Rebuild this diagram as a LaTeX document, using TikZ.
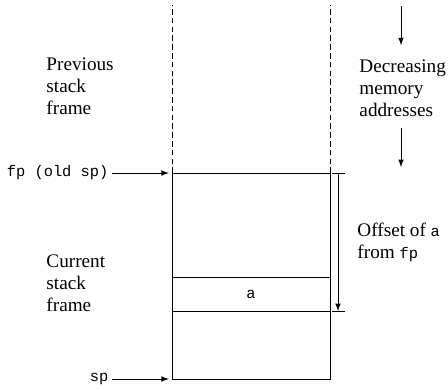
\documentclass[tikz,border=0pt]{standalone}
\usepackage{fontspec}
\setmainfont{Liberation Serif}
\setmonofont[Scale=0.8]{Liberation Mono}
\usetikzlibrary{positioning}

\begin{document}
\begin{tikzpicture}[
        x=0.625pt, y=-0.625pt,
        -latex ,
        semithick ,
        font=\fontsize{12}{13.75}\selectfont ,
        cell/.style ={ draw, -, inner sep=0, outer sep=0, minimum width=98.75pt},
        label/.style ={ inner sep=0, align=left},
        pointer/.style ={ inner sep=2pt, anchor=east, font=\fontsize{12}{13.75}\ttfamily},
    ]
    \useasboundingbox (0,0) rectangle (448,389);

    % the frame of the running procedure
    \node[cell, minimum height=65pt, anchor=north west] (upper) at (172,173) {};
    \node[cell, minimum height=21.25pt, below=0 of upper] (slota) {\texttt{a}};
    \node[cell, minimum height=42.5pt, below=0 of slota] (lower) {};

    % previous frame, open at the top
    \coordinate (prevleft) at (172,5);
    \coordinate (prevright) at (330,5);
    \draw[-, dash pattern=on 3.5pt off 2pt] (upper.north west) -- (prevleft);
    \draw[-, dash pattern=on 3.5pt off 2pt] (upper.north east) -- (prevright);

    \node[label, anchor=west] (prev) at (46,86) {Previous\\stack\\frame};
    \node[label, anchor=west] (curr) at (46,283) {Current\\stack\\frame};

    % fp and sp
    \node[pointer] (fp) at (112,173) {fp (old sp)};
    \node[pointer] (sp) at (112,379) {sp};
    \path (fp.east) edge[shorten >=2pt] (upper.north west);
    \path (sp.east) edge[shorten >=2pt] (lower.south west);

    % offset of a from fp
    \coordinate (offtop) at ([xshift=5pt]upper.north east);
    \coordinate (offbot) at ([xshift=5pt]slota.south east);
    \draw[-] ([xshift=-3.5pt]offtop) -- ([xshift=4.5pt]offtop);
    \draw[-] ([xshift=-3.5pt]offbot) -- ([xshift=4.5pt]offbot);
    \path (offtop) edge (offbot);
    \node[label, anchor=west] (offset) at (357,242) {Offset of \texttt{a}\\from \texttt{fp}};

    % direction of the addresses
    \node[label, anchor=west] (dec) at (359,88) {Decreasing\\memory\\addresses};
    \coordinate (dectop) at (401,6);
    \coordinate (decbot) at (401,167);
    \path (dectop) edge ([yshift=-24.5pt]dectop);
    \path ([yshift=24.5pt]decbot) edge (decbot);

\end{tikzpicture}
\end{document}
